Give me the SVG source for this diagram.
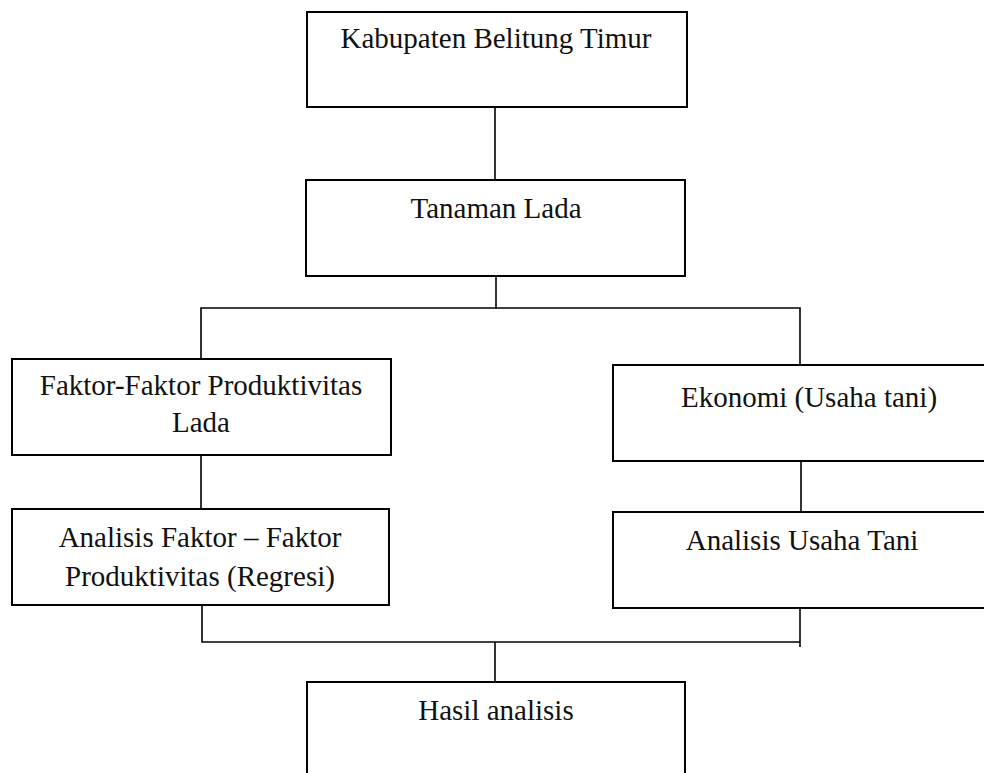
<svg xmlns="http://www.w3.org/2000/svg" width="984" height="773" viewBox="0 0 984 773">
<style>
.box{fill:#fff;stroke:#000;stroke-width:2}
.lbl{font-family:"Liberation Serif","Times New Roman",serif;font-size:29px;fill:#111;text-anchor:middle}
.con{fill:none;stroke:#000;stroke-width:1.6}
</style>
<rect width="984" height="773" fill="#fff"/>
<g id="connectors">
<line class="con" x1="495" y1="107" x2="495" y2="180"/>
<line class="con" x1="496" y1="276" x2="496" y2="309"/>
<polyline class="con" points="201,359 201,308 800,308 800,365"/>
<line class="con" x1="201" y1="455" x2="201" y2="509"/>
<line class="con" x1="801" y1="461" x2="801" y2="512"/>
<polyline class="con" points="202,605 202,642 800,642"/>
<line class="con" x1="800" y1="608" x2="800" y2="647"/>
<line class="con" x1="495" y1="642" x2="495" y2="682"/>
</g>
<g id="n1"><rect class="box" x="307" y="12" width="380" height="95"/><text class="lbl" x="496" y="48">Kabupaten Belitung Timur</text></g>
<g id="n2"><rect class="box" x="306" y="180" width="379" height="96"/><text class="lbl" x="496" y="218">Tanaman Lada</text></g>
<g id="n3"><rect class="box" x="12" y="359" width="379" height="96"/><text class="lbl" x="201" y="395">Faktor-Faktor Produktivitas</text><text class="lbl" x="201" y="432">Lada</text></g>
<g id="n4"><rect class="box" x="613" y="365" width="380" height="96"/><text class="lbl" x="809" y="407">Ekonomi (Usaha tani)</text></g>
<g id="n5"><rect class="box" x="12" y="509" width="377" height="96"/><text class="lbl" x="200" y="547">Analisis Faktor – Faktor</text><text class="lbl" x="200" y="586">Produktivitas (Regresi)</text></g>
<g id="n6"><rect class="box" x="613" y="512" width="380" height="96"/><text class="lbl" x="802" y="550">Analisis Usaha Tani</text></g>
<g id="n7"><rect class="box" x="307" y="682" width="378" height="110"/><text class="lbl" x="496" y="720">Hasil analisis</text></g>
</svg>
